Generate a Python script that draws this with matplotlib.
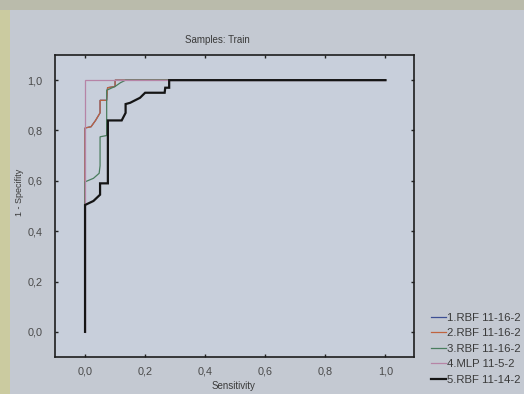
import matplotlib
matplotlib.use("Agg")
import matplotlib.pyplot as plt
from matplotlib.patches import Rectangle
from matplotlib.ticker import FuncFormatter

plt.rcParams['font.family'] = ['Liberation Sans', 'DejaVu Sans']

# ---- data ----
title = "Samples: Train"
xlabel = "Sensitivity"
ylabel = "1 - Specifity"
labels = ["1.RBF 11-16-2", "2.RBF 11-16-2", "3.RBF 11-16-2", "4.MLP 11-5-2", "5.RBF 11-14-2"]

x1 = [0, 0, 0.02, 0.035, 0.05, 0.05, 0.072, 0.075, 0.1, 0.1, 1.0]
y1 = [0, 0.81, 0.815, 0.84, 0.87, 0.92, 0.92, 0.97, 0.975, 1.0, 1.0]

x2 = [0, 0, 0.02, 0.035, 0.05, 0.05, 0.072, 0.075, 0.1, 0.1, 1.0]
y2 = [0, 0.81, 0.815, 0.84, 0.87, 0.92, 0.92, 0.97, 0.975, 1.0, 1.0]

x3 = [0, 0, 0.028, 0.047, 0.05, 0.05, 0.072, 0.072, 0.1, 0.118, 0.135, 1.0]
y3 = [0, 0.596, 0.61, 0.63, 0.66, 0.775, 0.78, 0.96, 0.975, 0.99, 1.0, 1.0]

x4 = [0, 0, 1.0]
y4 = [0, 1.0, 1.0]

x5 = [0, 0, 0.028, 0.05, 0.05, 0.076, 0.076, 0.122, 0.135, 0.135, 0.15, 0.183, 0.2, 0.265, 0.267, 0.28, 0.28, 1.0]
y5 = [0, 0.504, 0.52, 0.545, 0.59, 0.59, 0.84, 0.84, 0.87, 0.905, 0.91, 0.93, 0.95, 0.95, 0.97, 0.97, 1.0, 1.0]

xticks = [0.0, 0.2, 0.4, 0.6, 0.8, 1.0]
yticks = [0.0, 0.2, 0.4, 0.6, 0.8, 1.0]

colors = ["#3d4f94", "#c0643f", "#4a7d5e", "#b684a6", "#151515"]
widths = [0.9, 0.9, 0.9, 0.9, 1.6]

W, H = 524, 394
fig = plt.figure(figsize=(W / 100, H / 100), dpi=100)
fig.patch.set_facecolor("#c4c9d2")
# photo-like border tones
fig.patches.append(Rectangle((0, 0), 10 / W, 1, transform=fig.transFigure,
                             facecolor="#cbcba0", edgecolor="none", zorder=0))
fig.patches.append(Rectangle((0, 1 - 10 / H), 1, 10 / H, transform=fig.transFigure,
                             facecolor="#babbab", edgecolor="none", zorder=0))

ax = fig.add_axes([55 / W, (H - 357) / H, (414 - 55) / W, (357 - 55) / H])
ax.set_facecolor("#c8cfdb")

for xs, ys, c, lw, lab in zip([x1, x2, x3, x4, x5], [y1, y2, y3, y4, y5], colors, widths, labels):
    ax.plot(xs, ys, color=c, lw=lw, label=lab, solid_joinstyle="miter")

ax.set_xlim(-0.1, 1.095)
ax.set_ylim(-0.1, 1.1)
ax.set_xticks(xticks)
ax.set_yticks(yticks)
fmt = FuncFormatter(lambda v, p: f"{v:.1f}".replace(".", ","))
ax.xaxis.set_major_formatter(fmt)
ax.yaxis.set_major_formatter(fmt)
ax.tick_params(direction="in", length=2.5, width=1.0, top=True, right=True,
               labelsize=7.8, labelcolor="#4a4a4a", color="#222222", pad=9)
ax.tick_params(axis="x", pad=7)
for s in ax.spines.values():
    s.set_color("#1e1e1e")
    s.set_linewidth(1.2)

fig.text(217 / W, 1 - 40 / H, title, ha="center", va="center", fontsize=7, color="#3a3a3a")
fig.text(233 / W, 1 - 386 / H, xlabel, ha="center", va="center", fontsize=7, color="#3a3a3a")
fig.text(20 / W, 1 - 192 / H, ylabel, ha="center", va="center", rotation=90, fontsize=6.5, color="#3a3a3a")

handles, labs = ax.get_legend_handles_labels()
fig.legend(handles, labs, loc="upper left", bbox_to_anchor=(431 / W, 1 - 313 / H),
           frameon=False, fontsize=8.2, handlelength=1.3, handletextpad=0.1,
           labelspacing=0.48, borderpad=0, borderaxespad=0, labelcolor="#3a3a3a")

fig.savefig("out.png", dpi=100, facecolor=fig.get_facecolor())
